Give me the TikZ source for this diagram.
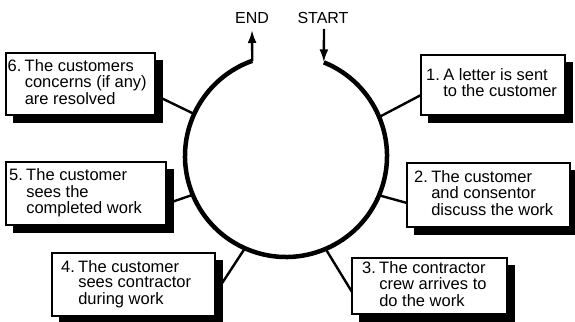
\documentclass[tikz,border=0pt]{standalone}
\usepackage{fontspec}
\setmainfont{Liberation Sans}
\usetikzlibrary{arrows.meta}
\definecolor{shadowcol}{RGB}{0,0,0}
\begin{document}
\begin{tikzpicture}[x=1pt,y=1pt,
  boxgeom/.style={inner sep=0pt, outer sep=0pt, anchor=north west},
  boxnode/.style={draw=black, line width=1.3pt, fill=white, inner sep=0pt, outer sep=0pt, anchor=north west},
  shadownode/.style={fill=shadowcol, draw=shadowcol, line width=0.5pt, inner sep=0pt, outer sep=0pt, anchor=north west},
  txt/.style={anchor=west, inner sep=0pt, font=\fontsize{16.5}{15.5}\selectfont},
  lbl/.style={inner sep=0pt, font=\fontsize{16}{16}\selectfont},
  link/.style={line width=2.4pt},
  ring/.style={line width=4.5pt},
  flow/.style={line width=2.4pt, -{Latex[length=13pt,width=9pt]}}]
\useasboundingbox (0,0) rectangle (575,321);
\coordinate (O) at (286,165);
\path (O) ++(68:101) coordinate (arcstart);
\path (O) ++(109.5:101) coordinate (arcend);
\path (O) ++(22.7:101) coordinate (c1);
\path (O) ++(-22.9:101) coordinate (c2);
\path (O) ++(-66.9:101) coordinate (c3);
\path (O) ++(-114:101) coordinate (c4);
\path (O) ++(-157.4:101) coordinate (c5);
\path (O) ++(155.4:101) coordinate (c6);
\coordinate (endtip) at (252,291);
\coordinate (starttail) at (324,292);

% box geometry (invisible), used for connectors
\path
  (421,266) node[boxgeom, minimum width=144pt, minimum height=60pt] (b1) {}
  (407,158) node[boxgeom, minimum width=163pt, minimum height=64pt] (b2) {}
  (352,63)  node[boxgeom, minimum width=155pt, minimum height=56pt] (b3) {}
  (52,68)   node[boxgeom, minimum width=163pt, minimum height=63pt] (b4) {}
  (6,159)   node[boxgeom, minimum width=160pt, minimum height=63pt] (b5) {}
  (6,268)   node[boxgeom, minimum width=149pt, minimum height=62pt] (b6) {};

% connectors
\draw[link] (c1) -- ([yshift=-10pt]b1.west);
\draw[link] (c2) -- ([yshift=-8pt]b2.west);
\draw[link] (c3) -- ([yshift=-6pt]b3.west);
\draw[link] (c4) -- ([yshift=-9.5pt]b4.east);
\draw[link] (c5) -- ([yshift=-10.5pt]b5.east);
\draw[link] (c6) -- ([yshift=-11pt]b6.east);

% shadows
\node[shadownode, minimum width=144pt, minimum height=60pt] (s1) at (428,259) {};
\node[shadownode, minimum width=163pt, minimum height=64pt] (s2) at (414,151) {};
\node[shadownode, minimum width=155pt, minimum height=56pt] (s3) at (359,56) {};
\node[shadownode, minimum width=163pt, minimum height=63pt] (s4) at (59,61) {};
\node[shadownode, minimum width=160pt, minimum height=63pt] (s5) at (13,152) {};
\node[shadownode, minimum width=149pt, minimum height=62pt] (s6) at (13,261) {};

% boxes
\node[boxnode, minimum width=144pt, minimum height=60pt] (B1) at (421,266) {};
\node[boxnode, minimum width=163pt, minimum height=64pt] (B2) at (407,158) {};
\node[boxnode, minimum width=155pt, minimum height=56pt] (B3) at (352,63) {};
\node[boxnode, minimum width=163pt, minimum height=63pt] (B4) at (52,68) {};
\node[boxnode, minimum width=160pt, minimum height=63pt] (B5) at (6,159) {};
\node[boxnode, minimum width=149pt, minimum height=62pt] (B6) at (6,268) {};

% texts
\node[txt] (t1) at ([xshift=5pt]B1.west)
  {\begin{tabular}{@{}l@{\hspace{0.2em}}l@{}}1.&A letter is sent\\&to the customer\end{tabular}};
\node[txt] (t2) at ([xshift=7pt]B2.west)
  {\begin{tabular}{@{}l@{\hspace{0.2em}}l@{}}2.&The customer\\&and consentor\\&discuss the work\end{tabular}};
\node[txt] (t3) at ([xshift=10pt]B3.west)
  {\begin{tabular}{@{}l@{\hspace{0.2em}}l@{}}3.&The contractor\\&crew arrives to\\&do the work\end{tabular}};
\node[txt] (t4) at ([xshift=9pt]B4.west)
  {\begin{tabular}{@{}l@{\hspace{0.2em}}l@{}}4.&The customer\\&sees contractor\\&during work\end{tabular}};
\node[txt] (t5) at ([xshift=3pt]B5.west)
  {\begin{tabular}{@{}l@{\hspace{0.2em}}l@{}}5.&The customer\\&sees the\\&completed work\end{tabular}};
\node[txt] (t6) at ([xshift=1.5pt]B6.west)
  {\begin{tabular}{@{}l@{\hspace{0.2em}}l@{}}6.&The customers\\&concerns (if any)\\&are resolved\end{tabular}};

% ring and start/end arrows
\draw[ring] (arcstart) arc[start angle=68, end angle=-250.5, radius=101];
\draw[flow] (arcend) -- (endtip);
\draw[flow] (starttail) -- (arcstart);
\node[lbl] (endl) at (252,303) {END};
\node[lbl] (startl) at (323,303) {START};
\end{tikzpicture}
\end{document}
